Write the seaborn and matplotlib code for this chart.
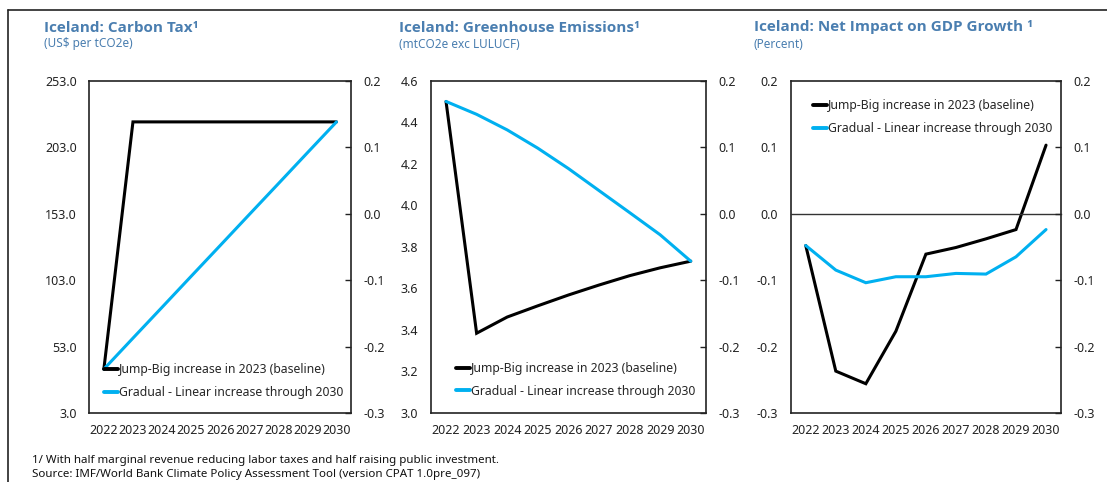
import matplotlib
matplotlib.use("Agg")
import matplotlib.pyplot as plt
from matplotlib.lines import Line2D
import numpy as np
import pandas as pd
import seaborn as sns

# ---- data -------------------------------------------------------------
years = [2022, 2023, 2024, 2025, 2026, 2027, 2028, 2029, 2030]
scenarios = ["Jump-Big increase in 2023 (baseline)",
             "Gradual - Linear increase through 2030"]

tax_jump = [36.0, 222.0, 222.0, 222.0, 222.0, 222.0, 222.0, 222.0, 222.0]
tax_gradual = [36.0, 59.3, 82.5, 105.8, 129.0, 152.3, 175.5, 198.8, 222.0]

ghg_jump = [4.50, 3.384, 3.462, 3.516, 3.568, 3.616, 3.661, 3.699, 3.731]
ghg_gradual = [4.50, 4.438, 4.363, 4.275, 4.177, 4.071, 3.965, 3.858, 3.731]

gdp_jump = [-0.048, -0.237, -0.256, -0.177, -0.061, -0.051, -0.038, -0.024, 0.103]
gdp_gradual = [-0.048, -0.085, -0.104, -0.095, -0.095, -0.090, -0.091, -0.065, -0.024]

titles = ["Iceland: Carbon Tax\u00b9",
          "Iceland: Greenhouse Emissions\u00b9",
          "Iceland: Net Impact on GDP Growth \u00b9"]
subtitles = ["(US$ per tCO2e)", "(mtCO2e exc LULUCF)", "(Percent)"]

tax_ticks = [3.0, 53.0, 103.0, 153.0, 203.0, 253.0]
ghg_ticks = [3.0, 3.2, 3.4, 3.6, 3.8, 4.0, 4.2, 4.4, 4.6]
pct_ticks = [-0.3, -0.2, -0.1, 0.0, 0.1, 0.2]

footnote = "1/ With half marginal revenue reducing labor taxes and half raising public investment."
source = "Source: IMF/World Bank Climate Policy Assessment Tool (version CPAT 1.0pre_097)"

# ---- style ------------------------------------------------------------
sns.set_style("white")
plt.rcParams["font.family"] = ["Noto Sans", "DejaVu Sans"]
plt.rcParams["axes.unicode_minus"] = False

BLACK = "#000000"
BLUE = "#00B0F0"
TITLE_C = "#4A7EB0"
INK = "#222222"
palette = {scenarios[0]: BLACK, scenarios[1]: BLUE}

fig = plt.figure(figsize=(11.07, 4.82), dpi=100)

# outer frame lines (top and left)
fig.add_artist(Line2D([8 / 1107, 1.0], [1 - 10 / 482, 1 - 10 / 482],
                      color=INK, lw=1.2, transform=fig.transFigure))
fig.add_artist(Line2D([8 / 1107, 8 / 1107], [0.0, 1 - 10 / 482],
                      color=INK, lw=1.2, transform=fig.transFigure))

bottom, height = 0.1432, 0.6894
panels = [
    dict(rect=[0.0807, bottom, 0.2364, height], jump=tax_jump, grad=tax_gradual,
         ticks=tax_ticks, leg=(0.056, 0.096), zero=False),
    dict(rect=[0.3891, bottom, 0.2487, height], jump=ghg_jump, grad=ghg_gradual,
         ticks=ghg_ticks, leg=(0.092, 0.100), zero=False),
    dict(rect=[0.7143, bottom, 0.2442, height], jump=gdp_jump, grad=gdp_gradual,
         ticks=pct_ticks, leg=(0.082, 0.891), zero=True),
]
title_x = [44, 399, 754]

TICK_FS = 9
for i, p in enumerate(panels):
    ax = fig.add_axes(p["rect"])
    df = pd.DataFrame({
        "year": years * 2,
        "value": p["jump"] + p["grad"],
        "scenario": [scenarios[0]] * len(years) + [scenarios[1]] * len(years),
    })
    sns.lineplot(data=df, x="year", y="value", hue="scenario",
                 hue_order=scenarios, palette=palette, lw=2.2, ax=ax,
                 legend=False, solid_joinstyle="miter")

    ax.set_xlim(years[0] - 0.5, years[-1] + 0.5)
    ax.set_ylim(p["ticks"][0], p["ticks"][-1])
    ax.set_yticks(p["ticks"])
    ax.set_yticklabels(["{:.1f}".format(t) for t in p["ticks"]])
    ax.set_xlabel("")
    ax.set_ylabel("")
    ax.set_xticks(years)
    ax.set_xticklabels([str(y) for y in years])
    ax.set_xticks([y + 0.5 for y in years[:-1]], minor=True)
    ax.tick_params(axis="y", which="major", length=0, pad=9,
                   labelsize=TICK_FS, colors=INK)
    ax.tick_params(axis="x", which="major", length=0, pad=8,
                   labelsize=TICK_FS, colors=INK)
    ax.tick_params(axis="x", which="minor", direction="in", length=4,
                   width=1.0, color=INK)
    for s in ax.spines.values():
        s.set_color(INK)
        s.set_linewidth(1.2)

    if p["zero"]:
        # horizontal category axis crosses at zero, labels stay at the bottom
        ax.spines["bottom"].set_position(("data", 0.0))
        ax.spines["bottom"].set_linewidth(1.0)
        ax.spines["bottom"].set_color("#333333")
        ax.tick_params(axis="x", which="major", labelbottom=False)
        sec = ax.secondary_xaxis("bottom")
        sec.set_xticks(years)
        sec.set_xticklabels([str(y) for y in years])
        sec.tick_params(axis="x", length=0, pad=8, labelsize=TICK_FS,
                        colors=INK)
        sec.spines["bottom"].set_color(INK)
        sec.spines["bottom"].set_linewidth(1.2)

    # right-hand axis
    ax2 = ax.twinx()
    ax2.set_ylim(pct_ticks[0], pct_ticks[-1])
    ax2.set_yticks(pct_ticks)
    ax2.set_yticklabels(["{:.1f}".format(t) for t in pct_ticks])
    ax2.tick_params(axis="y", direction="in", length=4, width=1.0,
                    pad=9, labelsize=TICK_FS, colors=INK)
    for s in ax2.spines.values():
        s.set_visible(False)

    handles = [Line2D([], [], color=BLACK, lw=2.8),
               Line2D([], [], color=BLUE, lw=2.8)]
    ax.legend(handles, scenarios, loc="center left", bbox_to_anchor=p["leg"],
              frameon=False, fontsize=8.8, handlelength=1.15,
              handletextpad=0.05, borderpad=0, borderaxespad=0,
              labelspacing=0.8)

    fig.text(title_x[i] / 1107, 1 - 31.5 / 482, titles[i], fontsize=11,
             fontweight="bold", color=TITLE_C, ha="left", va="baseline",
             family=["Open Sans", "Lato", "DejaVu Sans"])
    fig.text(title_x[i] / 1107, 1 - 44 / 482, subtitles[i], fontsize=8.5,
             color=TITLE_C, ha="left", va="center")

fig.text(32 / 1107, 1 - 460 / 482, footnote, fontsize=8.3, color="#111111",
         ha="left", va="center")
fig.text(32 / 1107, 1 - 475 / 482, source, fontsize=8.3, color="#111111",
         ha="left", va="center")

fig.savefig("out.png", dpi=100)
